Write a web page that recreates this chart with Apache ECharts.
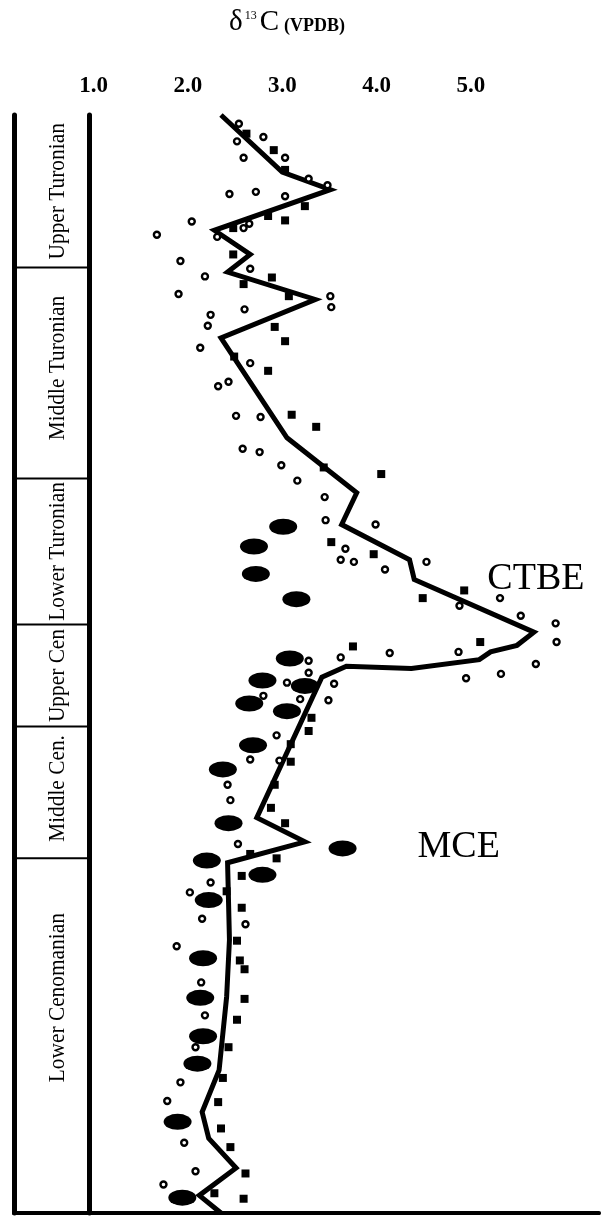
<!DOCTYPE html>
<html><head><meta charset="utf-8">
<script src="https://cdn.jsdelivr.net/npm/echarts@6/dist/echarts.min.js"></script>
<style>html,body{margin:0;padding:0;background:#fff}#c{width:602px;height:1217px}</style>
</head><body><div id="c"></div>
<script>
// ---- Axis ticks ----
const tickValues = [1, 2, 3, 4, 5];
const tickLabels = ['1.0', '2.0', '3.0', '4.0', '5.0'];

// ---- Stratigraphic column (relative height 0 = base, 100 = top) ----
const stageNames   = ['Upper Turonian', 'Middle Turonian', 'Lower Turonian', 'Upper Cen', 'Middle Cen.', 'Lower Cenomanian'];
const stageTops    = [100, 86.1, 66.9, 53.6, 44.3, 32.3];
const stageBottoms = [86.1, 66.9, 53.6, 44.3, 32.3, 0];

// ---- Smoothed δ13C curve ----
const curveX = [2.35,3.00,3.51,2.28,2.66,2.42,3.35,2.35,3.05,3.79,3.63,4.35,4.40,5.67,5.49,5.21,5.09,4.37,3.68,3.42,2.73,3.24,2.42,2.44,2.41,2.33,2.15,2.22,2.51,2.12,2.35];
const curveH = [100,94.8,93.2,89.5,87.3,85.7,83.2,79.7,70.6,65.6,62.7,59.5,57.7,52.9,51.7,51.1,50.4,49.6,49.8,48.8,36.0,33.8,31.9,24.9,19.7,13.0,9.2,6.8,4.1,1.6,0];

// ---- Open circles ----
const circleX = [2.54,2.80,2.52,2.59,3.03,3.28,3.48,2.44,2.72,3.03,2.04,1.67,2.31,2.59,2.65,1.92,2.66,2.18,1.90,3.51,3.52,2.60,2.24,2.21,2.13,2.66,2.43,2.32,2.51,2.77,2.58,2.76,2.99,3.16,3.45,3.46,3.99,3.67,3.62,3.76,4.09,4.53,4.88,5.31,5.53,5.90,5.91,5.69,5.32,4.87,4.14,3.62,3.28,3.28,4.95,3.05,3.55,2.80,3.19,3.49,2.94,2.66,2.97,2.42,2.45,2.53,2.24,2.02,2.15,2.61,1.88,2.14,2.18,2.08,1.92,1.78,1.96,2.08,1.74];
const circleH = [99.2,98.0,97.6,96.1,96.1,94.2,93.6,92.8,93.0,92.6,90.3,89.1,88.9,89.7,90.1,86.7,86.0,85.3,83.7,83.5,82.5,82.3,81.8,80.8,78.8,77.4,75.7,75.3,72.6,72.5,69.6,69.3,68.1,66.7,65.2,63.1,62.7,60.5,59.5,59.3,58.6,59.3,55.3,56.0,54.4,53.7,52.0,50.0,49.1,51.1,51.0,50.6,50.3,49.2,48.7,48.3,48.2,47.1,46.8,46.7,43.5,41.3,41.2,39.0,37.6,33.6,30.1,29.2,26.8,26.3,24.3,21.0,18.0,15.1,11.9,10.2,6.4,3.8,2.6];

// ---- Filled squares ----
const squareX = [2.62,2.91,3.03,3.24,2.85,3.03,2.48,2.48,2.89,2.59,3.07,2.92,3.03,2.49,2.85,3.10,3.36,3.44,4.05,3.52,3.97,4.49,4.93,5.10,3.75,3.31,3.28,3.09,3.09,2.92,2.88,3.03,2.66,2.94,2.57,2.41,2.57,2.52,2.55,2.60,2.60,2.52,2.43,2.37,2.32,2.35,2.45,2.61,2.28,2.59];
const squareH = [98.3,96.8,95.0,91.7,90.8,90.4,89.7,87.3,85.2,84.6,83.5,80.7,79.4,78.0,76.7,72.7,71.6,67.9,67.3,61.1,60.0,56.0,56.7,52.0,51.6,45.1,43.9,42.7,41.1,39.0,36.9,35.5,32.7,32.3,30.7,29.3,27.8,24.8,23.0,22.2,19.5,17.6,15.1,12.3,10.1,7.7,6.0,3.6,1.8,1.3];

// ---- Filled ellipses ----
const ellipseX = [3.01,2.70,2.72,3.15,3.08,2.79,3.24,2.65,3.05,2.69,2.37,2.43,3.64,2.20,2.79,2.22,2.16,2.13,2.16,2.10,1.89,1.94];
const ellipseH = [62.5,60.7,58.2,55.9,50.5,48.5,48.0,46.4,45.7,42.6,40.4,35.5,33.2,32.1,30.8,28.5,23.2,19.6,16.1,13.6,8.3,1.4];

// ---- Event labels ----
const eventNames = ['CTBE', 'MCE'];
const eventX = [5.17, 4.43];
const eventH = [57.7, 33.3];

// ================= styling / rendering =================
const SERIF = '"Liberation Serif", "Times New Roman", serif';
const labelShift = { 'Middle Turonian': -5, 'Middle Cen.': -4, 'Lower Cenomanian': -38 };
const zip = (a, b) => a.map((v, i) => [v, b[i]]);

const chart = echarts.init(document.getElementById('c'), null, { renderer: 'canvas' });

const hiddenAxisBits = { axisLabel: { show: false }, axisTick: { show: false }, splitLine: { show: false } };

chart.setOption({
  animation: false,
  backgroundColor: '#fff',
  title: {
    text: '{d|δ}{s|13}{c|C}{v|(VPDB)}',
    left: 229, top: 8, padding: 0,
    textStyle: {
      fontWeight: 'normal',
      rich: {
        d: { fontSize: 29, fontFamily: SERIF, fontWeight: 'normal', color: '#000', verticalAlign: 'bottom' },
        s: { fontSize: 12, fontFamily: SERIF, fontWeight: 'normal', color: '#000', verticalAlign: 'top', padding: [2, 3, 0, 2] },
        c: { fontSize: 29, fontFamily: SERIF, fontWeight: 'normal', color: '#000', verticalAlign: 'bottom', padding: [0, 5, 0, 0] },
        v: { fontSize: 18, fontFamily: SERIF, fontWeight: 'bold', color: '#000', verticalAlign: 'bottom', padding: [0, 0, 2, 0] }
      }
    }
  },
  grid: [
    { left: 89, right: 0, top: 115, bottom: 4 },
    { left: 14, right: 513, top: 115, bottom: 4 }
  ],
  xAxis: [
    {
      gridIndex: 0, type: 'value', position: 'top', min: 0.95, max: 6.36,
      axisLine: { show: true, lineStyle: { color: '#000', width: 4 } },
      axisTick: { show: false }, splitLine: { show: false },
      axisLabel: {
        margin: 17, color: '#000', fontSize: 23, fontWeight: 'bold', fontFamily: SERIF,
        formatter: v => { const i = tickValues.indexOf(Math.round(v * 100) / 100); return i >= 0 ? tickLabels[i] : ''; }
      }
    },
    Object.assign({ gridIndex: 0, type: 'value', position: 'bottom', min: 0.95, max: 6.36,
      axisLine: { show: true, lineStyle: { color: '#000', width: 3 } } }, hiddenAxisBits),
    Object.assign({ gridIndex: 1, type: 'value', position: 'top', min: 0, max: 1,
      axisLine: { show: true, lineStyle: { color: '#000', width: 4 } } }, hiddenAxisBits),
    Object.assign({ gridIndex: 1, type: 'value', position: 'bottom', min: 0, max: 1,
      axisLine: { show: true, lineStyle: { color: '#000', width: 3 } } }, hiddenAxisBits)
  ],
  yAxis: [
    Object.assign({ gridIndex: 0, type: 'value', min: 0, max: 100, position: 'left',
      axisLine: { show: true, lineStyle: { color: '#000', width: 5 } } }, hiddenAxisBits),
    Object.assign({ gridIndex: 1, type: 'value', min: 0, max: 100, position: 'left',
      axisLine: { show: true, lineStyle: { color: '#000', width: 5 } } }, hiddenAxisBits)
  ],
  series: [
    {
      type: 'custom', xAxisIndex: 2, yAxisIndex: 1, clip: false, silent: true,
      data: stageNames.map((n, i) => ({ name: n, value: [stageBottoms[i], stageTops[i]] })),
      encode: { y: [0, 1] },
      renderItem: (params, api) => {
        const b = api.value(0), t = api.value(1);
        const pTop = api.coord([0, t]);
        const pBot = api.coord([1, b]);
        const name = stageNames[params.dataIndex];
        const shift = labelShift[name] || 0;
        const children = [];
        if (b > 0) {
          children.push({ type: 'line', shape: { x1: pTop[0], y1: pBot[1], x2: pBot[0], y2: pBot[1] },
            style: { stroke: '#000', lineWidth: 2 } });
        }
        children.push({
          type: 'text', x: (pTop[0] + pBot[0]) / 2 + 6, y: (pTop[1] + pBot[1]) / 2 + shift,
          rotation: Math.PI / 2, scaleX: 0.89,
          style: { text: name, fill: '#000', fontSize: 24, fontFamily: SERIF, align: 'center', verticalAlign: 'middle' }
        });
        return { type: 'group', children };
      }
    },
    {
      name: 'ellipses', type: 'scatter', xAxisIndex: 0, yAxisIndex: 0, z: 2, silent: true,
      symbol: 'circle', symbolSize: [28, 16], itemStyle: { color: '#000', opacity: 1 },
      data: zip(ellipseX, ellipseH)
    },
    {
      name: 'curve', type: 'line', xAxisIndex: 0, yAxisIndex: 0, z: 3, silent: true,
      symbol: 'none', lineStyle: { color: '#000', width: 5, join: 'miter', miterLimit: 3 },
      data: zip(curveX, curveH)
    },
    {
      name: 'squares', type: 'scatter', xAxisIndex: 0, yAxisIndex: 0, z: 4, silent: true,
      symbol: 'rect', symbolSize: 8, itemStyle: { color: '#000', opacity: 1 },
      data: zip(squareX, squareH)
    },
    {
      name: 'circles', type: 'scatter', xAxisIndex: 0, yAxisIndex: 0, z: 5, silent: true,
      symbol: 'circle', symbolSize: 6, itemStyle: { color: '#fff', borderColor: '#000', borderWidth: 2.4, opacity: 1 },
      data: zip(circleX, circleH)
    },
    {
      name: 'events', type: 'scatter', xAxisIndex: 0, yAxisIndex: 0, z: 6, silent: true,
      symbolSize: 1, itemStyle: { color: 'rgba(0,0,0,0)', opacity: 1 },
      label: { show: true, position: 'right', distance: 0, formatter: '{b}', color: '#000', opacity: 1, fontSize: 38, fontFamily: SERIF },
      data: eventNames.map((n, i) => ({ name: n, value: [eventX[i], eventH[i]] }))
    }
  ]
});
</script></body></html>
